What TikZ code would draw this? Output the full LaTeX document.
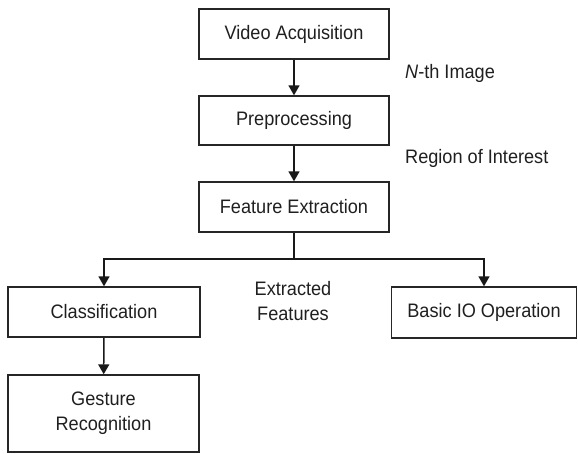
\documentclass[tikz,border=0pt]{standalone}
\usepackage{fontspec}
\setmainfont{Liberation Sans}[FakeStretch=0.93]
\usetikzlibrary{arrows.meta}
\begin{document}
\begin{tikzpicture}[x=1pt,y=-1pt,
  box/.style={draw=black!85, line width=1.4pt, inner sep=0pt, font=\fontsize{19.5}{23}\selectfont, text=black!88, align=center},
  lbl/.style={font=\fontsize{19.5}{23}\selectfont, text=black!88, inner sep=0pt, align=center},
  conn/.style={draw=black!90, line width=1.5pt, -{Triangle[width=11pt,length=10pt]}}]
\useasboundingbox (0,0) rectangle (578,453);
\node[box, minimum width=190pt, minimum height=50pt] (va) at (294,34) {Video Acquisition};
\node[box, minimum width=190pt, minimum height=49pt] (pp) at (294,120.5) {Preprocessing};
\node[box, minimum width=190pt, minimum height=50pt] (fe) at (294,207) {Feature Extraction};
\node[box, minimum width=192pt, minimum height=50pt] (cl) at (104,312) {Classification};
\node[box, minimum width=185pt, minimum height=51pt] (io) at (484,312.5) {Basic IO Operation};
\node[box, minimum width=191pt, minimum height=77pt] (gr) at (103.5,413.5) {Gesture\\[2pt]Recognition};
\node[lbl, anchor=west] (nth) at (405,73) {\textit{N}-th Image};
\node[lbl, anchor=west] (roi) at (405,158) {Region of Interest};
\node[lbl] (ef) at (293,301) {Extracted\\[2pt]Features};
\coordinate (br) at (294,259);
\draw[conn] (va) -- (pp);
\draw[conn] (pp) -- (fe);
\draw[line width=1.5pt, draw=black!90] (fe.south) -- (br);
\draw[conn] (br) -| (cl.north);
\draw[conn] (br) -| (io.north);
\draw[conn] (cl) -- (gr);
\end{tikzpicture}
\end{document}
